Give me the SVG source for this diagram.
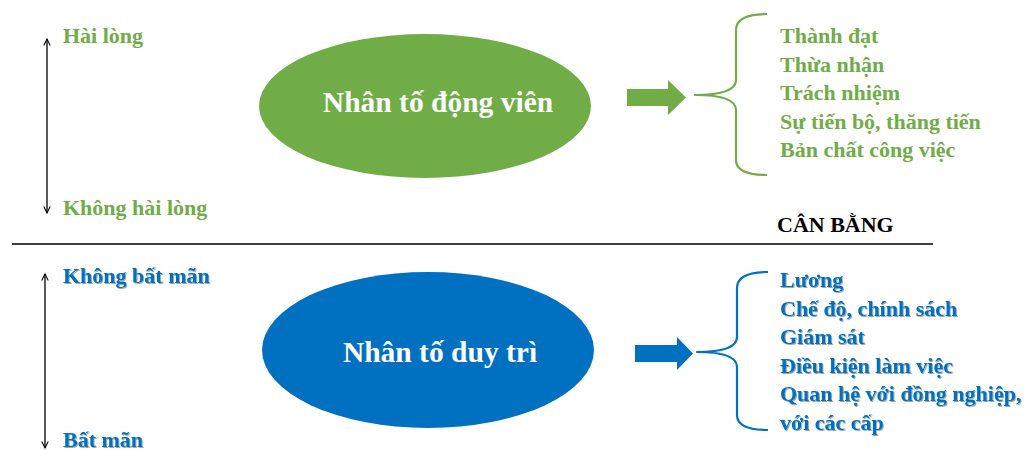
<svg xmlns="http://www.w3.org/2000/svg" width="1027" height="450" viewBox="0 0 1027 450">
  <style>
    text { font-family: "Liberation Serif", "Times New Roman", serif; font-weight: bold; }
    .g { fill: #70AD47; font-size: 22px; }
    .b { fill: #0070C0; font-size: 22px; filter: url(#shadow); }
    .title { fill: #FFFFFF; font-size: 29.5px; text-anchor: middle; }
    .axis { stroke: #000; stroke-width: 1.3; fill: none; marker-start: url(#openHead); marker-end: url(#openHead); }
    .brace { fill: none; stroke-width: 2.2; stroke-linejoin: round; }
  </style>
  <defs>
    <marker id="openHead" viewBox="0 0 10 10" refX="9" refY="5" markerWidth="8" markerHeight="8" orient="auto-start-reverse" markerUnits="userSpaceOnUse">
      <path d="M1,1 L9,5 L1,9" fill="none" stroke="#000" stroke-width="1.3"/>
    </marker>
    <filter id="shadow" x="-5%" y="-20%" width="110%" height="140%">
      <feDropShadow dx="1" dy="1" stdDeviation="0.6" flood-color="#000" flood-opacity="0.35"/>
    </filter>
  </defs>

  <!-- scale axes -->
  <g id="axes">
    <line class="axis" x1="47" y1="39" x2="47" y2="213"/>
    <line class="axis" x1="45" y1="274" x2="45" y2="448"/>
  </g>

  <!-- scale labels -->
  <g id="scale-labels">
    <text class="g" x="63" y="43">Hài lòng</text>
    <text class="g" x="63" y="215">Không hài lòng</text>
    <text class="b" x="63" y="283">Không bất mãn</text>
    <text class="b" x="63" y="447">Bất mãn</text>
  </g>

  <!-- divider -->
  <g id="divider">
    <line x1="12" y1="244" x2="933" y2="244" stroke="#000" stroke-width="1.5"/>
    <text x="777" y="232" fill="#000" font-size="22">CÂN BẰNG</text>
  </g>

  <!-- motivation factors -->
  <g id="motivators">
    <ellipse cx="425" cy="106" rx="166" ry="72" fill="#70AD47"/>
    <text class="title" x="438" y="112">Nhân tố động viên</text>
  </g>

  <!-- hygiene factors -->
  <g id="hygiene">
    <ellipse cx="428" cy="350" rx="166" ry="78" fill="#0070C0"/>
    <text class="title" x="440" y="362">Nhân tố duy trì</text>
  </g>

  <!-- connectors -->
  <g id="connectors">
    <path d="M627,89 L668,89 L668,80 L686,97.5 L668,115 L668,106 L627,106 Z" fill="#70AD47"/>
    <path d="M635,345 L677,345 L677,337 L693,353.5 L677,370 L677,362 L635,362 Z" fill="#0070C0"/>
    <path class="brace" stroke="#70AD47" d="M767,14 Q736,14 736,30 L736,80 Q736,95 695,95 Q736,95 736,110 L736,160 Q736,175 767,175"/>
    <path class="brace" stroke="#0070C0" d="M768,272 Q737,272 737,288 L737,337 Q737,352 697,352 Q737,352 737,367 L737,415 Q737,430 768,430"/>
  </g>

  <!-- motivator list -->
  <g id="motivator-list">
    <text class="g" x="780" y="43">Thành đạt</text>
    <text class="g" x="780" y="71.5">Thừa nhận</text>
    <text class="g" x="780" y="100">Trách nhiệm</text>
    <text class="g" x="780" y="128.5">Sự tiến bộ, thăng tiến</text>
    <text class="g" x="780" y="157">Bản chất công việc</text>
  </g>

  <!-- hygiene list -->
  <g id="hygiene-list">
    <text class="b" x="780" y="287">Lương</text>
    <text class="b" x="780" y="315.5">Chế độ, chính sách</text>
    <text class="b" x="780" y="344">Giám sát</text>
    <text class="b" x="780" y="372.5">Điều kiện làm việc</text>
    <text class="b" x="780" y="401">Quan hệ với đồng nghiệp,</text>
    <text class="b" x="780" y="429.5">với các cấp</text>
  </g>
</svg>
